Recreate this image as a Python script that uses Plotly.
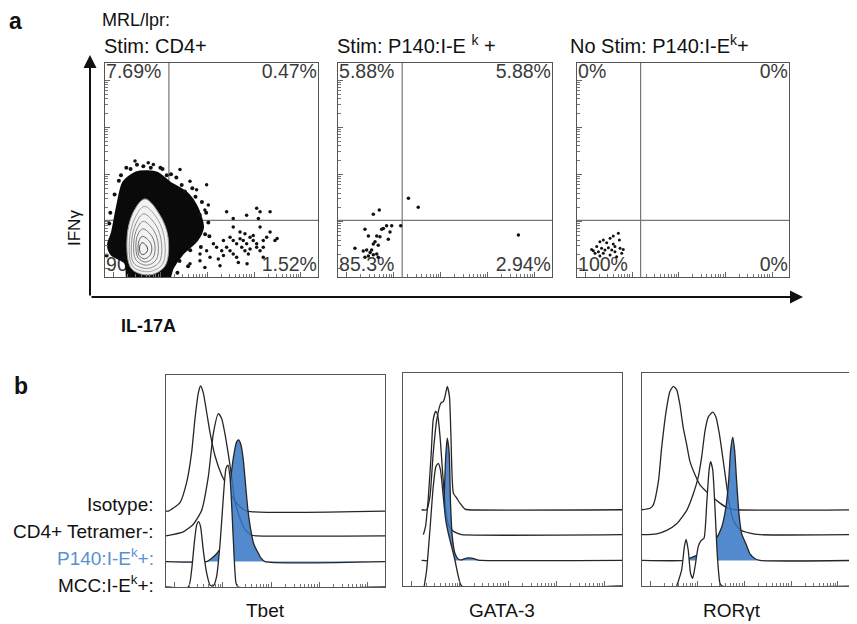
import math
import plotly.graph_objects as go

W, H = 857, 624
OFF = 8                      # page body margin of the browser
FW, FH = W - OFF, H - OFF    # figure size
FONT = "Liberation Sans, Arial, Helvetica, sans-serif"

# ---------------- panel a data (channel %, IL-17A on x, IFNg on y) ----------------
cd4_quad = ["7.69%", "0.47%", "90.3%", "1.52%"]
p140_quad = ["5.88%", "5.88%", "85.3%", "2.94%"]
nostim_quad = ["0%", "0%", "100%", "0%"]
gate_x = 30.0
gate_y = 26.5

cd4_blob_x = [11.0, 9.5, 3.0, 1.4, 3.3, 5.6, 8.5, 12.7, 16.4, 24.4, 30.5, 38.5, 43.2, 46.0, 43.2, 36.6, 31.9, 29.1, 20.0, 11.0]
cd4_blob_y = [-3, 6.5, 10.5, 15.0, 20.9, 32.7, 44.1, 47.9, 49.3, 48.8, 44.1, 39.3, 32.7, 23.2, 17.1, 10.9, 4.3, -3, -3, -3]

cd4_contour_x = [
    [18.8, 25.8, 29.6, 28.2, 21.1, 12.5, 10.3, 13.1, 18.8],
    [18.5, 25.0, 28.0, 27.0, 20.5, 13.0, 11.5, 14.0, 18.5],
    [18.2, 24.0, 26.5, 25.5, 20.0, 13.5, 12.5, 14.5, 18.2],
    [18.0, 23.0, 25.0, 24.0, 19.5, 14.5, 13.5, 15.0, 18.0],
    [17.8, 22.0, 23.5, 22.5, 19.0, 15.5, 14.5, 15.5, 17.8],
    [17.5, 21.0, 22.0, 21.0, 18.5, 16.0, 15.5, 16.0, 17.5],
    [17.5, 19.5, 20.0, 19.0, 17.5, 16.5, 16.2, 16.5, 17.5],
]
cd4_contour_y = [
    [36.5, 28.9, 18.5, 5.2, 1.0, 3.8, 17.1, 29.9, 36.5],
    [33.0, 26.5, 17.0, 6.0, 2.5, 5.0, 17.0, 27.5, 33.0],
    [29.5, 24.0, 16.0, 7.0, 4.0, 6.5, 16.5, 25.0, 29.5],
    [26.0, 21.5, 15.0, 8.0, 5.5, 8.0, 16.0, 22.5, 26.0],
    [22.5, 19.0, 14.0, 9.0, 7.0, 9.0, 15.0, 20.0, 22.5],
    [19.0, 16.5, 13.0, 10.0, 8.5, 10.0, 14.0, 17.0, 19.0],
    [16.0, 14.5, 12.5, 11.0, 10.5, 11.5, 13.5, 15.0, 16.0],
]

cd4_dots_x = [14.1, 20.3, 22.7, 35.2, 47.7, 43.0, 39.9, 48.5, 46.9, 57.1,
              60.2, 66.5, 71.2, 72.8, 77.5, 72.0, 60.2, 72.8, 50.9, 52.4,
              55.6, 58.7, 60.2, 61.8, 63.4, 64.9, 66.5, 68.1, 69.6, 71.2,
              74.3, 75.9, 77.5, 79.8, 65.7, 67.3, 60.2, 61.8, 55.6, 49.3,
              47.7, 54.0, 71.2, 72.8, 74.3, 69.6, 65.7, 64.2, 57.1, 58.7,
              54.8, 53.2, 44.6, 63.4, 68.1, 62.6, 74.3, 46.9, 44.6, 80.8,
              66.7, 39.9]
cd4_dots_y = [54.2, 53.4, 52.6, 50.2, 43.1, 40.8, 44.7, 33.6, 31.3, 30.5,
              27.3, 28.9, 32.1, 30.5, 30.5, 27.3, 23.4, 23.4, 15.5, 13.9,
              17.1, 18.6, 17.1, 15.5, 17.9, 17.1, 15.5, 18.6, 17.1, 15.5,
              17.1, 18.6, 21.0, 17.1, 12.3, 10.7, 10.7, 9.2, 10.0, 9.2,
              12.3, 5.2, 13.9, 12.3, 13.9, 19.4, 20.2, 13.9, 13.9, 12.3,
              12.3, 8.4, 7.6, 21.0, 13.1, 6.8, 9.2, 4.4, 10.7, 18.0,
              6.2, 6.2]
cd4_edge_x = [10.0, 18.0, 27.0, 33.5, 41.0, 45.5, 48.5, 47.0, 40.0, 35.0, 0.8, 2.0,
              4.5, 6.5, 29.0, 36.0, 44.5, 49.0, 39.0, 34.0, 12.0, 26.0, 31.0,
              7.5, 15.0, 21.5, 37.5, 42.5, 47.5, 2.5, 9.0, 45.0]
cd4_edge_y = [51.0, 51.8, 50.5, 46.5, 41.5, 35.0, 25.5, 20.0, 12.5, 7.5, 10.0, 25.0,
              38.5, 45.0, 47.5, 43.0, 29.0, 19.0, 5.0, 2.0, 50.5, 51.0, 48.0,
              47.5, 52.5, 51.0, 40.0, 37.5, 30.0, 30.0, 9.0, 14.0]

p140_dots_x = [32.9, 37.5, 16.5, 19.3, 12.6, 14.2, 20.4, 22.7, 25.1, 24.3,
               29.3, 18.1, 19.6, 17.3, 16.5, 18.8, 23.5, 7.9, 11.8, 13.4,
               15.0, 14.2, 12.6, 16.5, 18.1, 18.8, 84.3, 21.2, 15.7]
p140_dots_y = [36.8, 32.6, 29.3, 31.3, 22.3, 19.2, 22.3, 23.9, 23.9, 21.0,
               24.0, 19.2, 18.8, 16.5, 15.4, 14.8, 17.6, 13.4, 12.1, 12.6,
               11.4, 9.8, 9.2, 10.4, 10.7, 9.2, 19.6, 22.7, 12.6]

nostim_dots_x = [19.5, 17.1, 15.6, 12.4, 10.8, 14.0, 17.1, 20.0, 9.3, 6.9, 11.6, 14.8, 16.4,
                 17.9, 20.3, 21.1, 8.5, 12.4, 18.7, 15.6, 10.1, 13.2, 7.7, 17.9, 21.8, 10.8]
nostim_dots_y = [20.4, 19.2, 18.1, 17.3, 16.5, 16.0, 15.4, 17.3, 14.2, 12.9, 13.4, 13.7, 12.6,
                 11.8, 13.4, 11.1, 11.1, 11.1, 9.5, 10.3, 11.8, 12.6, 12.3, 14.2, 12.9, 9.8]

# ---------------- panel b data (x: channel %, h: % of mode-normalised height) ----------------
row_labels = ["Isotype:", "CD4+ Tetramer-:", "P140:I-E<sup>k</sup>+:", "MCC:I-E<sup>k</sup>+:"]
markers = ["Tbet", "GATA-3", "RORγt"]

tbet_iso_x = [0, 1.1, 6.4, 9.4, 11.7, 13.2, 14.8, 15.8, 17.0, 18.6, 20.1, 22.4, 25.4, 28.4, 30.7, 33.8, 37.1, 100]
tbet_iso_h = [0, 0, 4.0, 13.4, 27.6, 43.3, 55.9, 59.0, 55.9, 46.4, 37.0, 26.0, 17.0, 11.0, 6.0, 2.0, 0, 0]
tbet_cd4_x = [0, 7.9, 12.5, 16.3, 19.3, 21.6, 23.9, 25.4, 26.9, 28.4, 30.0, 31.5, 33.8, 36.1, 39.1, 41.4, 100]
tbet_cd4_h = [0, 1.9, 5.5, 12.1, 27.8, 48.3, 57.7, 55.4, 48.3, 38.9, 27.8, 16.1, 8.2, 3.0, 0.3, 0, 0]
tbet_p140_x = [0, 18.6, 20.9, 23.1, 25.4, 27.7, 29.5, 31.1, 32.3, 33.2, 34.2, 35.3, 36.4, 37.4, 38.7, 40.2, 41.7, 43.4, 45.2, 100]
tbet_p140_h = [0, 0, 1.6, 3.7, 7.1, 16.5, 38.6, 51.2, 56.6, 57.4, 55.1, 48.0, 35.4, 24.4, 15.0, 7.9, 4.8, 1.6, 0, 0]
tbet_mcc_x = [0, 10.2, 11.7, 12.9, 14.0, 14.9, 15.8, 17.0, 18.6, 20.1, 21.6, 23.1, 24.7, 26.2, 27.4, 28.3, 29.2, 30.1, 31.1, 32.0, 33.0, 100]
tbet_mcc_h = [0, 0, 8.0, 20.6, 29.2, 30.8, 28.4, 17.5, 6.4, 0.9, 0.5, 4.9, 20.6, 42.6, 56.0, 57.5, 52.0, 36.3, 14.3, 1.7, 0, 0]

gata_iso_x = [8.5, 10.8, 12.3, 13.8, 15.4, 17.3, 18.4, 19.2, 20.2, 21.2, 21.9, 23.0, 24.5, 26.0, 28.3, 29.8, 100]
gata_iso_h = [0, 0, 6.2, 26.6, 42.2, 50.1, 50.8, 53.2, 57.9, 53.2, 34.4, 7.8, 5.5, 3.1, 0.3, 0, 0]
gata_cd4_x = [9.3, 10.3, 11.6, 12.9, 13.8, 14.9, 15.8, 16.9, 18.0, 19.2, 20.7, 23.0, 25.3, 26.8, 100]
gata_cd4_h = [0, 3.9, 18.0, 38.4, 54.0, 57.9, 56.3, 46.2, 30.6, 14.9, 4.7, 1.6, 0.5, 0, 0]
gata_p140_x = [8.5, 16.5, 17.7, 18.7, 19.5, 20.2, 21.1, 21.7, 22.5, 23.7, 25.3, 26.8, 29.1, 31.4, 34.0, 36.0, 100]
gata_p140_h = [0, 0, 5.0, 26.9, 48.8, 57.4, 50.4, 26.9, 11.3, 3.4, 0.6, 0.3, 1.1, 1.1, 0.3, 0, 0]
gata_mcc_x = [9.7, 10.8, 12.3, 13.8, 15.0, 16.1, 17.1, 18.4, 19.5, 20.7, 22.2, 23.7, 25.3, 26.8, 100]
gata_mcc_h = [0, 7.5, 26.3, 46.6, 56.0, 57.6, 54.5, 41.9, 31.0, 24.7, 18.5, 12.2, 4.4, 0, 0]

ror_iso_x = [0, 3.8, 5.3, 7.7, 9.2, 11.3, 13.1, 14.7, 16.3, 17.8, 19.4, 21.0, 22.5, 24.9, 27.2, 31.9, 36.6, 40.5, 44.4, 100]
ror_iso_h = [0, 0.7, 2.3, 13.3, 28.9, 46.1, 55.5, 57.9, 56.3, 49.3, 38.3, 30.5, 22.7, 16.4, 11.7, 7.0, 3.1, 0.7, 0, 0]
ror_cd4_x = [0, 6.9, 11.6, 16.3, 21.0, 24.1, 26.4, 28.0, 29.6, 31.1, 33.2, 34.7, 36.3, 37.9, 39.4, 41.0, 42.9, 46.0, 50.7, 55.4, 100]
ror_cd4_h = [0, 0.4, 2.0, 5.1, 11.4, 19.2, 27.0, 36.4, 48.9, 55.2, 57.5, 55.2, 47.4, 36.4, 25.5, 14.5, 6.7, 2.3, 0.7, 0, 0]
ror_p140_x = [0, 19.4, 21.7, 25.7, 30.4, 34.3, 37.4, 39.4, 40.7, 41.6, 42.6, 43.5, 44.4, 45.5, 46.8, 48.8, 50.7, 53.1, 55.4, 100]
ror_p140_h = [0, 0, 0.8, 2.4, 5.5, 9.4, 15.6, 25.0, 37.6, 51.6, 57.9, 51.6, 37.6, 22.1, 12.5, 7.8, 3.1, 0.8, 0, 0]
ror_mcc_x = [16.3, 18.6, 19.9, 20.7, 21.7, 22.8, 23.8, 24.9, 26.4, 27.7, 29.1, 30.4, 31.5, 32.2, 33.2, 34.3, 35.4, 36.6, 37.6, 100]
ror_mcc_h = [0, 7.5, 18.5, 21.9, 16.9, 5.9, 3.6, 9.1, 18.5, 21.3, 22.4, 38.8, 54.5, 58.4, 54.5, 35.7, 13.8, 1.3, 0, 0]

# offsets of the stacked rows (Isotype, CD4+ Tet-, P140, MCC)
row_base = [35.8, 24.1, 12.0, 0.0]

# ---------------- layout helpers (reference page pixels -> paper) ----------------
def px(x):
    return (x - OFF) / FW

def py(y):
    return 1 - (y - OFF) / FH

def dx(l, r):
    return [px(l), px(r)]

def dy(t, b):
    return [py(b), py(t)]

panels = {
    1: (105, 318, 63, 277),
    2: (338, 552, 63, 277),
    3: (577, 789, 63, 277),
    4: (166, 385, 375, 587),
    5: (403, 622, 373, 586),
    6: (642, 855, 373, 586),
}

decades = [4, 26, 48, 70]
span = 22
major = decades + [92]
minor = [d + span * math.log10(m) for d in decades for m in range(2, 10)]

def axis(dom, anchor, ticks):
    a = dict(domain=dom, anchor=anchor, range=[0, 100], showgrid=False, zeroline=False,
             showline=True, mirror=True, linecolor="#555", linewidth=1.2,
             showticklabels=False, fixedrange=True)
    if ticks:
        a.update(ticks="inside", tickmode="array", tickvals=major, ticklen=5,
                 tickcolor="#666", tickwidth=1,
                 minor=dict(tickmode="array", tickvals=minor, ticks="inside",
                            ticklen=3, tickcolor="#777", tickwidth=1))
    else:
        a.update(ticks="")
    return a

fig = go.Figure()
layout = dict(width=FW, height=FH, margin=dict(l=0, r=0, t=0, b=0),
              paper_bgcolor="white", plot_bgcolor="white", showlegend=False,
              font=dict(family=FONT, color="#111"))
for i, (l, r, t, b) in panels.items():
    sfx = "" if i == 1 else str(i)
    layout["xaxis" + sfx] = axis(dx(l, r), "y" + sfx, True)
    layout["yaxis" + sfx] = axis(dy(t, b), "x" + sfx, i <= 3)

def axn(i):
    return ("x" if i == 1 else "x%d" % i), ("y" if i == 1 else "y%d" % i)

# ---------------- panel a traces ----------------
def quad_text(i, labels):
    xa, ya = axn(i)
    fig.add_trace(go.Scatter(
        x=[0.5, 99.5, 0.5, 99.5], y=[100, 100, 0.3, 0.3], mode="text", text=labels,
        textposition=["bottom right", "bottom left", "top right", "top left"],
        textfont=dict(family=FONT, size=19.5, color="#3a3a3a"), cliponaxis=False,
        xaxis=xa, yaxis=ya, hoverinfo="skip"))

def gates(i):
    xa, ya = axn(i)
    for gx, gy in (([gate_x, gate_x], [0, 100]), ([0, 100], [gate_y, gate_y])):
        fig.add_trace(go.Scatter(x=gx, y=gy, mode="lines", line=dict(color="#777", width=1.2),
                                 xaxis=xa, yaxis=ya, hoverinfo="skip"))

def dots(i, xs, ys, size):
    xa, ya = axn(i)
    fig.add_trace(go.Scatter(x=xs, y=ys, mode="markers",
                             marker=dict(size=size, color="#111", line=dict(width=0)),
                             xaxis=xa, yaxis=ya, hoverinfo="skip"))

# panel 1
quad_text(1, cd4_quad)
gates(1)
fig.add_trace(go.Scatter(x=cd4_blob_x, y=cd4_blob_y, mode="lines", fill="toself",
                         fillcolor="#0a0a0a", line=dict(color="#0a0a0a", width=2, shape="spline", smoothing=0.8),
                         xaxis="x", yaxis="y", hoverinfo="skip"))
dots(1, cd4_edge_x, cd4_edge_y, 4)
ring_cols = ["#9a9a9a", "#a0a0a0", "#909090", "#858585", "#777", "#666", "#444"]
for k, (rx, ry) in enumerate(zip(cd4_contour_x, cd4_contour_y)):
    fig.add_trace(go.Scatter(x=rx, y=ry, mode="lines",
                             fill="toself" if k == 0 else "none", fillcolor="#f2f2f2",
                             line=dict(color=ring_cols[k], width=1, shape="spline", smoothing=1.0),
                             xaxis="x", yaxis="y", hoverinfo="skip"))
dots(1, cd4_dots_x, cd4_dots_y, 3.5)

# panel 2, 3
quad_text(2, p140_quad)
gates(2)
dots(2, p140_dots_x, p140_dots_y, 3.5)
quad_text(3, nostim_quad)
gates(3)
dots(3, nostim_dots_x, nostim_dots_y, 3)

# ---------------- panel b traces ----------------
hist_sets = [
    (4, [(tbet_iso_x, tbet_iso_h), (tbet_cd4_x, tbet_cd4_h), (tbet_p140_x, tbet_p140_h), (tbet_mcc_x, tbet_mcc_h)]),
    (5, [(gata_iso_x, gata_iso_h), (gata_cd4_x, gata_cd4_h), (gata_p140_x, gata_p140_h), (gata_mcc_x, gata_mcc_h)]),
    (6, [(ror_iso_x, ror_iso_h), (ror_cd4_x, ror_cd4_h), (ror_p140_x, ror_p140_h), (ror_mcc_x, ror_mcc_h)]),
]
BLUE_FILL = "rgba(52,118,196,0.85)"
for i, curves in hist_sets:
    xa, ya = axn(i)
    for row, (xs, hs) in enumerate(curves):
        ys = [row_base[row] + h for h in hs]
        if row == 2:
            fill, fc = "toself", BLUE_FILL
        elif row == 3:
            fill, fc = "toself", "white"
        else:
            fill, fc = "none", None
        fig.add_trace(go.Scatter(x=xs, y=ys, mode="lines", fill=fill, fillcolor=fc,
                                 line=dict(color="#262626", width=1.3, shape="spline", smoothing=0.55),
                                 xaxis=xa, yaxis=ya, hoverinfo="skip"))

# ---------------- text & arrows ----------------
ann = []

def txt(s, x, y, size, xanchor="left", yanchor="middle", bold=False, color="#111", angle=0):
    ann.append(dict(text=("<b>%s</b>" % s) if bold else s, x=px(x), y=py(y),
                    xref="paper", yref="paper", xanchor=xanchor, yanchor=yanchor,
                    showarrow=False, textangle=angle,
                    font=dict(family=FONT, size=size, color=color)))

txt("a", 16, 21, 23, "center", bold=True)
txt("MRL/lpr:", 100, 20, 18)
txt("Stim: CD4+", 102, 46, 20)
txt("Stim: P140:I-E <sup>k</sup> +", 335, 45, 20)
txt("No Stim: P140:I-E<sup>k</sup>+", 568, 45, 20)
txt("IFNγ", 74, 228, 17, "center", angle=-90)
txt("IL-17A", 119, 326, 18, bold=True)
txt("b", 21, 386, 23, "center", bold=True)
label_y = [505, 531, 557, 584]
for s, yv in zip(row_labels, label_y):
    txt(s, 156, yv, 19, "right", color="#5a8fd2" if s.startswith("P140") else "#111")
for s, xc in zip(markers, [265, 502, 732]):
    txt(s, xc, 610, 19, "center")

# axis arrows of panel a
ann.append(dict(x=px(90), y=py(55), xref="paper", yref="paper", ax=0, ay=242,
                text="", showarrow=True, arrowhead=2, arrowsize=1.3, arrowwidth=2, arrowcolor="#111"))
ann.append(dict(x=px(803), y=py(297), xref="paper", yref="paper", ax=-713, ay=0,
                text="", showarrow=True, arrowhead=2, arrowsize=1.3, arrowwidth=2, arrowcolor="#111"))

layout["annotations"] = ann
fig.update_layout(**layout)
fig.write_html("out.html")
